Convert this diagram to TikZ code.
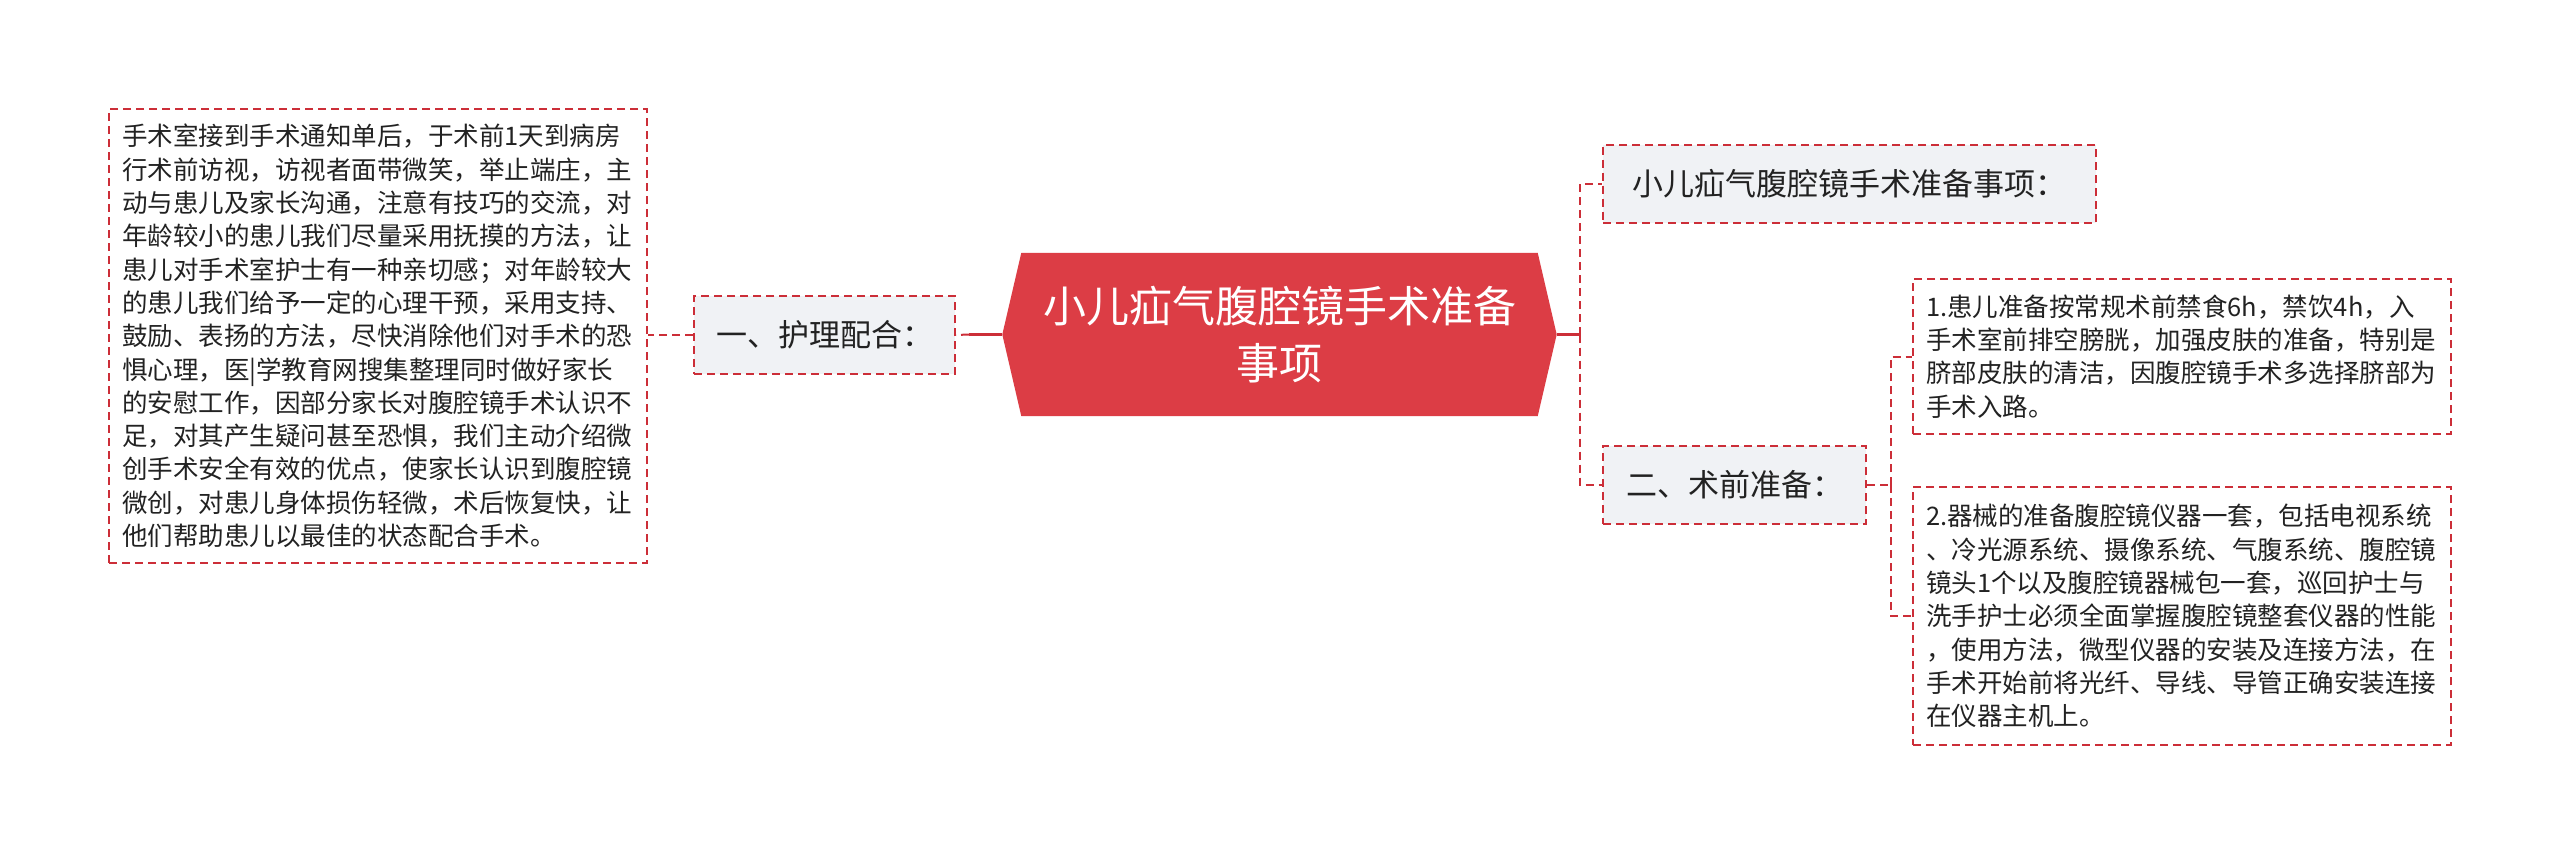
\documentclass[tikz,border=0pt]{standalone}
\usepackage{fontspec}
\newfontfamily\cjk{Noto Sans CJK SC}
\usetikzlibrary{backgrounds}
\definecolor{cfill}{RGB}{220,61,69}
\definecolor{lred}{RGB}{204,46,56}
\definecolor{lbg}{RGB}{240,242,245}
\definecolor{tcol}{RGB}{34,34,34}
\tikzset{
  dline/.style={draw=lred, line width=2pt, dash pattern=on 8pt off 5pt},
  solidline/.style={draw=lred, line width=3pt},
  txtbox/.style={dline, fill=white, text=tcol, font=\cjk\fontsize{25.5}{33.3}\selectfont,
    align=left, text width=512pt, inner xsep=13pt, inner ysep=0pt, minimum height=#1},
  labbox/.style={dline, fill=lbg, text=tcol, font=\cjk\fontsize{31}{38}\selectfont,
    align=center, inner sep=0pt, minimum height=78pt, minimum width=#1},
  rootbox/.style={inner sep=0pt, minimum width=554pt, minimum height=163pt},
  roottext/.style={text=white, font=\cjk\fontsize{43}{57}\selectfont, align=center, inner sep=0pt}
}
\begin{document}
\begin{tikzpicture}[x=1pt,y=-1pt]
\useasboundingbox (0,0) rectangle (2560,854);
\fill[white] (0,0) rectangle (2560,854);

% root
\node[rootbox] (C) at (1279.5,334.5) {};
\fill[cfill] (C.west) -- ([xshift=19pt]C.north west) -- ([xshift=-19pt]C.north east)
  -- (C.east) -- ([xshift=-19pt]C.south east) -- ([xshift=19pt]C.south west) -- cycle;
\node[roottext] (Ct) at (C.center) {小儿疝气腹腔镜手术准备\\事项};

% left branch
\node[labbox=261pt] (A) at (824.5,335) {一、护理配合：};
\node[txtbox=454pt] (L) at (378,336) {手术室接到手术通知单后，于术前1天到病房\\
行术前访视，访视者面带微笑，举止端庄，主\\
动与患儿及家长沟通，注意有技巧的交流，对\\
年龄较小的患儿我们尽量采用抚摸的方法，让\\
患儿对手术室护士有一种亲切感；对年龄较大\\
的患儿我们给予一定的心理干预，采用支持、\\
鼓励、表扬的方法，尽快消除他们对手术的恐\\
惧心理，医|学教育网搜集整理同时做好家长\\
的安慰工作，因部分家长对腹腔镜手术认识不\\
足，对其产生疑问甚至恐惧，我们主动介绍微\\
创手术安全有效的优点，使家长认识到腹腔镜\\
微创，对患儿身体损伤轻微，术后恢复快，让\\
他们帮助患儿以最佳的状态配合手术。};

% right branch
\node[labbox=493pt] (R1) at (1849.5,183.5) {小儿疝气腹腔镜手术准备事项：};
\node[labbox=263pt] (R2) at (1734.5,485) {二、术前准备：};
\node[txtbox=155pt] (B1) at (2182,356.5) {1.患儿准备按常规术前禁食6h，禁饮4h，入\\
手术室前排空膀胱，加强皮肤的准备，特别是\\
脐部皮肤的清洁，因腹腔镜手术多选择脐部为\\
手术入路。};
\node[txtbox=258pt] (B2) at (2182,616) {2.器械的准备腹腔镜仪器一套，包括电视系统\\
、冷光源系统、摄像系统、气腹系统、腹腔镜\\
镜头1个以及腹腔镜器械包一套，巡回护士与\\
洗手护士必须全面掌握腹腔镜整套仪器的性能\\
，使用方法，微型仪器的安装及连接方法，在\\
手术开始前将光纤、导线、导管正确安装连接\\
在仪器主机上。};

% connectors
\coordinate (jl) at (969,334.5);
\coordinate (jr) at (1580,334.5);
\coordinate (j2) at (1891,485);
\draw[solidline] (C.west) -- (jl);
\draw[dline] (jl) -- (A.east);
\draw[dline] (A.west) -- (L.east |- A.west);
\draw[solidline] (C.east) -- (jr);
\draw[dline] (jr) |- (R1.west);
\draw[dline] (jr) |- (R2.west);
\draw[dline] (R2.east) -- (j2);
\draw[dline] (j2) |- (B1.west);
\draw[dline] (j2) |- (B2.west);
\end{tikzpicture}
\end{document}
